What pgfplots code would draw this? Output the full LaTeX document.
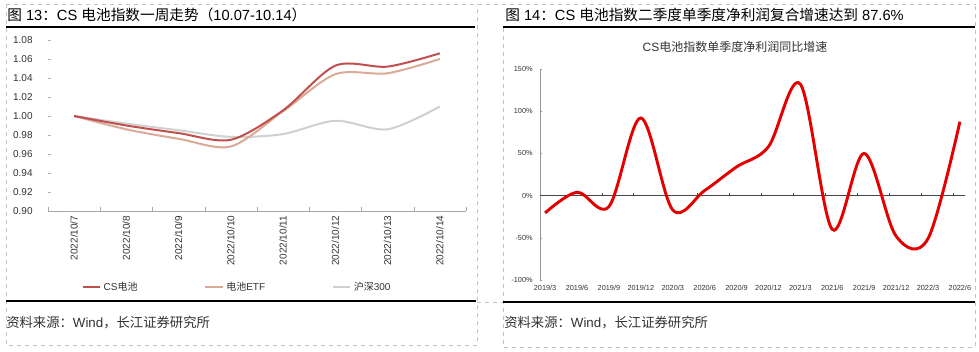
\documentclass[border=0pt]{standalone}
\usepackage{pgfplots}
\pgfplotsset{compat=1.18}
\usepackage{fontspec}
\setmainfont{Liberation Sans}
\newfontfamily\cjk{Noto Sans CJK SC}
\definecolor{cs}{RGB}{192,80,77}
\definecolor{etf}{RGB}{218,170,150}
\definecolor{hs}{RGB}{208,208,208}
\definecolor{rd}{RGB}{228,0,0}
\definecolor{frm}{RGB}{195,195,195}
\definecolor{txt}{RGB}{50,50,50}
\begin{document}
\begin{tikzpicture}
\begin{scope}[x=0.75pt,y=-0.75pt]
\path[use as bounding box] (0,0) rectangle (979,351);
% dashed table frame
\draw[frm, dashed, line width=0.5pt] (6,4) -- (976,4);
\draw[frm, dashed, line width=0.5pt] (6,4) -- (6,345) -- (477,345) -- (477,4);
\draw[frm, dashed, line width=0.5pt] (503,28) -- (503,347) -- (975,347) -- (975,4);
\draw[frm, dashed, line width=0.5pt] (477,302) -- (503,302);
% black rules
\draw[black, line width=0.9pt] (6,27) -- (475,27);
\draw[black, line width=0.9pt] (503,27) -- (975,27);
\draw[black, line width=0.9pt] (6,301) -- (476,301);
\draw[black, line width=0.9pt] (503,302) -- (975,302);
% titles
\node[anchor=base west, inner sep=0pt, font=\fontsize{11pt}{13pt}\selectfont, text=black] at (7,20)
  {{\cjk 图} 13{\cjk ：}CS {\cjk 电池指数一周走势（}10.07-10.14{\cjk ）}};
\node[anchor=base west, inner sep=0pt, font=\fontsize{11pt}{13pt}\selectfont, text=black] at (505,20)
  {{\cjk 图} 14{\cjk ：}CS {\cjk 电池指数二季度单季度净利润复合增速达到} 87.6\%};
\node[anchor=base west, inner sep=0pt, font=\fontsize{10pt}{12pt}\selectfont, text=txt] at (6,327)
  {{\cjk 资料来源：}Wind{\cjk ，长江证券研究所}};
\node[anchor=base west, inner sep=0pt, font=\fontsize{10pt}{12pt}\selectfont, text=txt] at (504,327)
  {{\cjk 资料来源：}Wind{\cjk ，长江证券研究所}};
\node[anchor=center, inner sep=0pt, font=\fontsize{9pt}{11pt}\selectfont, text=txt] at (735,47)
  {CS{\cjk 电池指数单季度净利润同比增速}};
\end{scope}

% ---------------- left chart ----------------
\begin{axis}[
  at={(36pt,-158.25pt)}, anchor=south west, scale only axis,
  width=313.5pt, height=128.25pt,
  xmin=-0.5, xmax=7.5, ymin=0.9, ymax=1.08,
  axis x line*=bottom, axis y line*=left,
  y axis line style={draw=none},
  x axis line style={draw=gray!70, -},
  tick align=inside,
  xtick={0,...,7},
  xticklabels={2022/10/7,2022/10/8,2022/10/9,2022/10/10,2022/10/11,2022/10/12,2022/10/13,2022/10/14},
  major x tick style={draw=none},
  minor xtick={-0.5,0.5,1.5,2.5,3.5,4.5,5.5,6.5,7.5},
  minor x tick style={draw=gray!70},
  minor tick length=3pt,
  ytick={0.9,0.92,0.94,0.96,0.98,1.0,1.02,1.04,1.06,1.08},
  y tick style={draw=gray!60},
  major tick length=2.5pt,
  /pgf/number format/assume math mode=true,
  y tick label style={/pgf/number format/fixed, /pgf/number format/fixed zerofill, /pgf/number format/precision=2,
     font=\fontsize{7.5pt}{9pt}\selectfont, text=txt, xshift=-8pt},
  x tick label style={rotate=90, anchor=east, font=\fontsize{7.5pt}{9pt}\selectfont, text=txt},
  legend columns=3,
  legend style={at={(0.08,-0.444)}, anchor=west, draw=none, fill=none,
     font=\fontsize{7.5pt}{9pt}\selectfont, text=txt, inner sep=0pt,
     /tikz/every even column/.append style={column sep=48pt}},
  legend image code/.code={\draw[#1] (0pt,0pt) -- (13pt,0pt);},
  clip=false,
]
\addplot[hs, line width=1.5pt, smooth, tension=0.5, forget plot] coordinates
  {(0,1.000) (1,0.992) (2,0.985) (3,0.978) (4,0.981) (5,0.995) (6,0.986) (7,1.010)};
\addplot[etf, line width=1.5pt, smooth, tension=0.5, forget plot] coordinates
  {(0,1.000) (1,0.986) (2,0.976) (3,0.968) (4,1.005) (5,1.044) (6,1.045) (7,1.060)};
\addplot[cs, line width=1.5pt, smooth, tension=0.5, forget plot] coordinates
  {(0,1.000) (1,0.990) (2,0.982) (3,0.975) (4,1.006) (5,1.053) (6,1.052) (7,1.066)};
\addlegendimage{cs, line width=1.5pt}
\addlegendentry{CS{\cjk 电池}}
\addlegendimage{etf, line width=1.5pt}
\addlegendentry{{\cjk 电池}ETF}
\addlegendimage{hs, line width=1.5pt}
\addlegendentry{{\cjk 沪深}300}
\end{axis}

% ---------------- right chart ----------------
\begin{axis}[
  at={(405pt,-210pt)}, anchor=south west, scale only axis,
  width=318.75pt, height=158.25pt,
  xmin=-0.16, xmax=13.16, ymin=-100, ymax=150,
  axis x line*=bottom, axis y line*=left,
  x axis line style={draw=none},
  y axis line style={draw=gray!80, -},
  tick align=inside,
  xtick={0,...,13},
  xticklabels={2019/3,2019/6,2019/9,2019/12,2020/3,2020/6,2020/9,2020/12,2021/3,2021/6,2021/9,2021/12,2022/3,2022/6},
  x tick style={draw=none},
  ytick={-100,-50,0,50,100,150},
  yticklabel={\pgfmathprintnumber{\tick}\%},
  y tick style={draw=gray!80},
  major tick length=1.5pt,
  /pgf/number format/assume math mode=true,
  tick label style={font=\fontsize{5.5pt}{6.5pt}\selectfont, text=txt},
  y tick label style={xshift=-2pt},
  clip=false,
]
\draw[gray!55!black, line width=0.8pt] (axis cs:-0.16,0) -- (axis cs:13.16,0);
\pgfplotsinvokeforeach{1,...,13}{\draw[gray!55!black, line width=0.5pt] (axis cs:#1-0.22,0) -- ++(0pt,2pt);}
\addplot[rd, line width=2.2pt, smooth, tension=0.55] coordinates
  {(0,-20.5) (1,4) (2,-13) (3,92) (4,-17) (5,6) (6,34) (7,58) (8,132) (9,-40) (10,50) (11,-48) (12,-51) (13,87.6)};
\end{axis}
\end{tikzpicture}
\end{document}
